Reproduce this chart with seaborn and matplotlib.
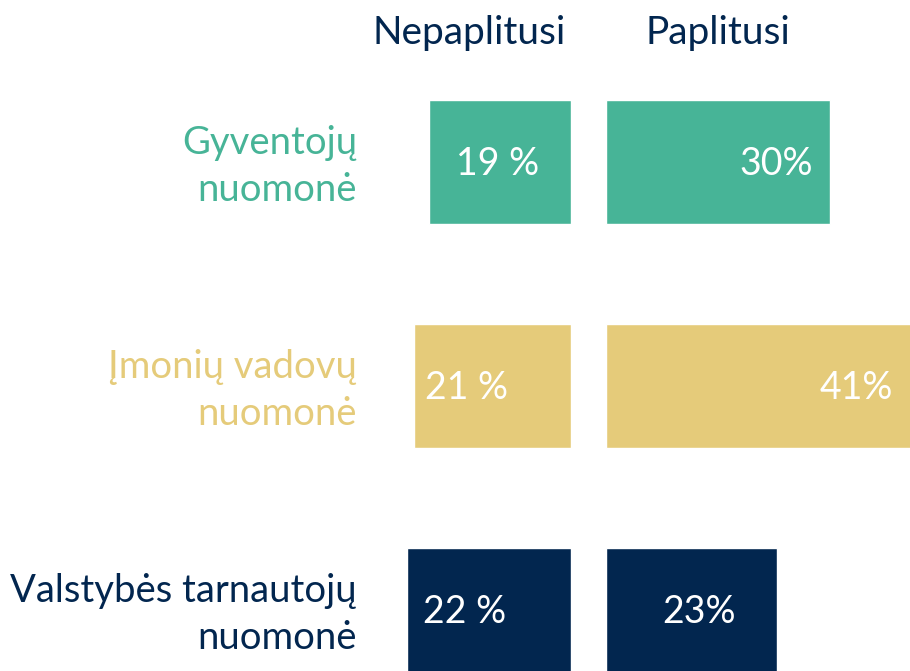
import matplotlib
matplotlib.use("Agg")
import matplotlib.pyplot as plt
import matplotlib.transforms as mtransforms
import pandas as pd
import seaborn as sns

##### Data

categories = ["Gyventojų\nnuomonė", "Įmonių vadovų\nnuomonė", "Valstybės tarnautojų\nnuomonė"]
nepaplitusi = [19, 21, 22]
paplitusi = [30, 41, 23]
nepaplitusi_labels = ["19 %", "21 %", "22 %"]
paplitusi_labels = ["30%", "41%", "23%"]
colors = ["#47B497", "#E5CB7A", "#02264F"]
headers = ["Nepaplitusi", "Paplitusi"]

# where each value label sits, as a share of its bar
left_pos = [0.52, 0.67, 0.65]
right_pos = [0.76, 0.82, 0.54]

df = pd.DataFrame({"cat": categories, "nep": nepaplitusi, "pap": paplitusi})

##### Plot

sns.set_theme(style="white")
plt.rcParams["font.family"] = ["Lato", "DejaVu Sans"]

W, H = 910, 671
fig = plt.figure(figsize=(W / 100, H / 100), dpi=100)
ax_l = fig.add_axes([0, 0, 571 / W, 1])
ax_r = fig.add_axes([606 / W, 0, 304 / W, 1])

palette = dict(zip(categories, colors))
for ax, col in [(ax_l, "nep"), (ax_r, "pap")]:
    sns.barplot(data=df, y="cat", x=col, hue="cat", palette=palette, order=categories,
                orient="h", width=0.554, dodge=False, legend=False, saturation=1, ax=ax)
    ax.set_ylim(2.272, -0.723)
    ax.set_axis_off()

ax_l.set_xlim(76.6, 0)
ax_r.set_xlim(0, 40.8)

for i in range(len(categories)):
    ax_l.text(nepaplitusi[i] * left_pos[i], i + 0.01, nepaplitusi_labels[i], color="white",
              fontsize=27, ha="center", va="center")
    ax_r.text(paplitusi[i] * right_pos[i], i + 0.01, paplitusi_labels[i], color="white",
              fontsize=27, ha="center", va="center")

trans = mtransforms.blended_transform_factory(fig.transFigure, ax_l.transData)
for i, c in enumerate(categories):
    ax_l.text(357 / W, i + 0.02, c, transform=trans, color=colors[i], fontsize=27.5,
              ha="right", va="center", multialignment="right", linespacing=1.4)

fig.text(469 / W, 1 - 33 / H, headers[0], color=colors[2], fontsize=28, ha="center", va="center")
fig.text(718 / W, 1 - 33 / H, headers[1], color=colors[2], fontsize=28, ha="center", va="center")

fig.savefig("out.png", dpi=100)
